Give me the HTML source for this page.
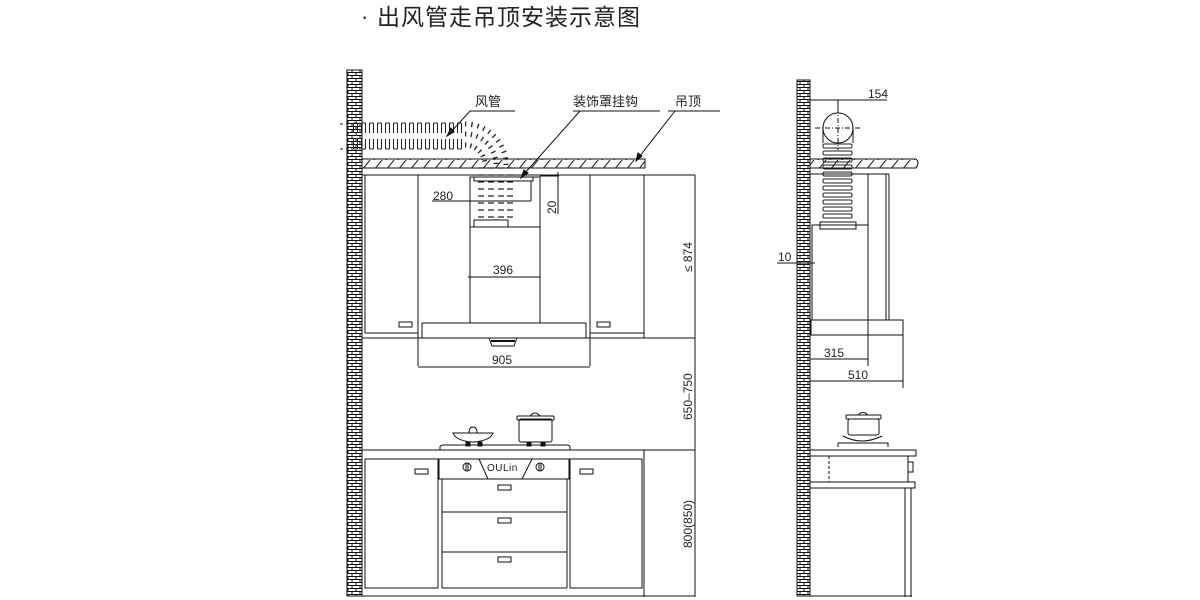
<!DOCTYPE html>
<html><head><meta charset="utf-8"><style>
html,body{margin:0;padding:0;background:#fff;width:1200px;height:600px;overflow:hidden}
svg{display:block}
text{font-family:"Liberation Sans","Noto Sans CJK SC",sans-serif;fill:#222}
</style></head><body>
<svg width="1200" height="600" viewBox="0 0 1200 600" xmlns="http://www.w3.org/2000/svg">
<defs>
<pattern id="brick" width="8" height="6" patternUnits="userSpaceOnUse">
<rect width="8" height="6" fill="#fff"/>
<path d="M0 0.5H8M0 3.5H8M4 0.5V3.5M0 3.5V6.5M8 3.5V6.5" stroke="#111" stroke-width="1" fill="none"/>
</pattern>
<pattern id="hatch" width="12" height="10" patternUnits="userSpaceOnUse">
<path d="M2 10L10 0" stroke="#111" stroke-width="1"/>
</pattern>
<pattern id="rib" x="352" y="122" width="8" height="30" patternUnits="userSpaceOnUse">
<path d="M1.5 1V11M1.5 1H5.5M5.5 1V11M1.5 17V27M5.5 17V27M1.5 27H5.5" stroke="#222" stroke-width="1" fill="none"/>
</pattern>
<pattern id="vrib" x="476" y="166" width="40" height="7" patternUnits="userSpaceOnUse">
<path d="M2 2H8M12 2H18M22 2H28M31 2H37" stroke="#222" stroke-width="1.2"/>
</pattern>
<pattern id="srib" x="822" y="143" width="32" height="7" patternUnits="userSpaceOnUse">
<rect x="1" y="1" width="29" height="4" rx="1.5" stroke="#222" stroke-width="1" fill="none"/>
</pattern>
</defs>

<!-- title -->
<text x="361" y="24" font-size="22" fill="#333">·</text>
<text x="377" y="25" font-size="23" letter-spacing="1" fill="#333">出风管走吊顶安装示意图</text>

<g stroke="#111" stroke-width="1" fill="none">
<!-- LEFT VIEW -->
<rect x="347" y="70" width="15" height="526" fill="url(#brick)"/>
<line x1="362" y1="70" x2="362" y2="596"/>
<rect x="362" y="159" width="283" height="9" fill="url(#hatch)"/>
<line x1="362" y1="175" x2="695" y2="175"/>
<rect x="352" y="122" width="112" height="28" fill="url(#rib)" stroke="none"/>
<line x1="340" y1="124" x2="350" y2="124" stroke-dasharray="3 3"/>
<line x1="340" y1="149" x2="350" y2="149" stroke-dasharray="3 3"/>
<path d="M465 145 A20 20 0 0 1 485 165" stroke="#222" stroke-width="5" stroke-dasharray="1.3 4"/>
<path d="M465 134 A31 31 0 0 1 496 165" stroke="#222" stroke-width="5" stroke-dasharray="1.3 4.5"/>
<path d="M465 124 A41 41 0 0 1 506 165" stroke="#222" stroke-width="5" stroke-dasharray="1.3 5"/>
<rect x="476" y="166" width="38" height="54" fill="url(#vrib)" stroke="none"/>
<line x1="365" y1="175" x2="365" y2="333"/>
<line x1="418" y1="175" x2="418" y2="366"/>
<line x1="590" y1="175" x2="590" y2="366"/>
<line x1="644" y1="175" x2="644" y2="338"/>
<line x1="695" y1="175" x2="695" y2="597"/>
<line x1="365" y1="333" x2="418" y2="333"/>
<line x1="362" y1="338" x2="422" y2="338"/>
<line x1="590" y1="333" x2="644" y2="333"/>
<line x1="586" y1="338" x2="695" y2="338"/>
<rect x="399" y="322" width="13" height="5"/>
<rect x="597" y="322" width="13" height="5"/>
<rect x="470" y="177" width="70" height="146"/>
<line x1="470" y1="227" x2="540" y2="227"/>
<rect x="474" y="220" width="34" height="7"/>
<rect x="474" y="177" width="59" height="4"/>
<rect x="422" y="323" width="164" height="15"/>
<path d="M489 338 L492 346 H514 L517 338" />
<path d="M491 341H515" stroke-width="2"/>
<line x1="468" y1="277" x2="540" y2="277"/>
<line x1="418" y1="367" x2="590" y2="367"/>
<line x1="432" y1="201" x2="531" y2="201"/>
<line x1="531" y1="181" x2="531" y2="201"/>
<line x1="540" y1="176" x2="559" y2="176"/>
<line x1="558" y1="172" x2="558" y2="214"/>
<line x1="470" y1="111" x2="515" y2="111"/>
<line x1="470" y1="111" x2="450" y2="133"/>
<path d="M447 136 L451 128 L454 132Z" fill="#111"/>
<line x1="573" y1="111" x2="660" y2="111"/>
<line x1="580" y1="111" x2="524" y2="174"/>
<path d="M521 178 L524 170 L528 173Z" fill="#111"/>
<line x1="668" y1="111" x2="720" y2="111"/>
<line x1="675" y1="111" x2="639" y2="157"/>
<path d="M636 161 L638 153 L642 156Z" fill="#111"/>
<line x1="362" y1="450" x2="695" y2="450"/>
<line x1="644" y1="450" x2="644" y2="597"/>
<line x1="362" y1="596" x2="695" y2="596"/>
<rect x="365" y="459" width="73" height="129"/>
<rect x="570" y="459" width="72" height="129"/>
<rect x="439" y="459" width="130" height="20"/>
<line x1="442" y1="479" x2="442" y2="588"/>
<line x1="567" y1="479" x2="567" y2="588"/>
<line x1="442" y1="512" x2="567" y2="512"/>
<line x1="442" y1="552" x2="567" y2="552"/>
<line x1="442" y1="588" x2="567" y2="588"/>
<line x1="479" y1="459" x2="488" y2="479"/>
<line x1="532" y1="459" x2="522" y2="479"/>
<circle cx="467" cy="467" r="4"/><line x1="466" y1="463" x2="466" y2="471"/><line x1="468" y1="463" x2="468" y2="471"/>
<circle cx="540" cy="467" r="4"/><line x1="539" y1="463" x2="539" y2="471"/><line x1="541" y1="463" x2="541" y2="471"/>
<rect x="415" y="469" width="13" height="5"/>
<rect x="580" y="469" width="13" height="5"/>
<rect x="498" y="485" width="13" height="5"/>
<rect x="498" y="518" width="13" height="5"/>
<rect x="498" y="557" width="13" height="5"/>
<path d="M440 450 V447 Q440 445 444 445 H566 Q570 445 570 447 V450"/>
<path d="M453 433 H493 Q490 441 473 442 Q456 441 453 433Z"/>
<path d="M469 433 Q469 427 473 427 Q477 427 477 433"/>
<rect x="466" y="442" width="4" height="4" fill="#111"/><rect x="478" y="442" width="4" height="4" fill="#111"/>
<rect x="519" y="419" width="33" height="23" rx="2"/>
<rect x="517" y="416" width="37" height="4" rx="1"/>
<path d="M530 416 Q535 410 540 416"/>
<rect x="527" y="442" width="4" height="4" fill="#111"/><rect x="541" y="442" width="4" height="4" fill="#111"/>

<!-- RIGHT VIEW -->
<rect x="797" y="80" width="13" height="516" fill="url(#brick)"/>
<line x1="810" y1="80" x2="810" y2="596"/>
<line x1="810" y1="100" x2="887" y2="100"/>
<line x1="838" y1="100" x2="838" y2="110"/>
<line x1="823" y1="128" x2="823" y2="143"/><line x1="853" y1="128" x2="853" y2="143"/>
<rect x="822" y="143" width="32" height="77" fill="url(#srib)" stroke="none"/>
<circle cx="838" cy="128" r="15" fill="#fff"/>
<line x1="838" y1="108" x2="838" y2="150" stroke-dasharray="5 2 1 2"/>
<line x1="815" y1="128" x2="861" y2="128" stroke-dasharray="5 2 1 2"/>
<path d="M810 159 H916 Q920 163 916 168 H810Z" fill="url(#hatch)"/>
<line x1="810" y1="174" x2="889" y2="174"/>
<line x1="868" y1="174" x2="868" y2="366"/>
<line x1="886" y1="174" x2="886" y2="320"/>
<line x1="889" y1="174" x2="889" y2="320"/>
<rect x="812" y="225" width="56" height="95"/>
<rect x="820" y="222" width="36" height="7"/>
<rect x="811" y="320" width="92" height="15"/>
<line x1="903" y1="320" x2="903" y2="388"/>
<line x1="777" y1="263" x2="815" y2="263"/>
<line x1="810" y1="359" x2="868" y2="359"/>
<line x1="810" y1="381" x2="903" y2="381"/>
<rect x="848" y="419" width="31" height="16" rx="2"/>
<rect x="846" y="415" width="35" height="4" rx="1"/>
<path d="M858 415 Q863 410 868 415"/>
<path d="M843 436 Q862 446 882 436"/>
<path d="M838 447 V443 H888 V447"/>
<rect x="810" y="450" width="106" height="6"/>
<line x1="810" y1="456" x2="810" y2="482"/>
<line x1="908" y1="456" x2="908" y2="482"/>
<line x1="829" y1="456" x2="829" y2="482" stroke-dasharray="3 2"/>
<rect x="908" y="462" width="5" height="10"/>
<rect x="810" y="482" width="105" height="6"/>
<line x1="905" y1="488" x2="905" y2="597"/>
<line x1="911" y1="488" x2="911" y2="597"/>
<line x1="810" y1="596" x2="912" y2="596"/>
</g>

<g font-size="13">
<text x="475" y="106">风管</text>
<text x="573" y="106">装饰罩挂钩</text>
<text x="675" y="106">吊顶</text>
<text x="433" y="200" font-size="12">280</text>
<text x="493" y="274" font-size="12">396</text>
<text x="492" y="364" font-size="12">905</text>
<text transform="translate(556,214) rotate(-90)" font-size="12">20</text>
<text transform="translate(692,272) rotate(-90)" font-size="12">≤ 874</text>
<text transform="translate(692,420) rotate(-90)" font-size="12">650–750</text>
<text transform="translate(692,548) rotate(-90)" font-size="12">800(850)</text>
<text x="487" y="471" font-size="10" letter-spacing="0.5">OULin</text>
<text x="868" y="98" font-size="12">154</text>
<text x="778" y="261" font-size="12">10</text>
<text x="824" y="357" font-size="12">315</text>
<text x="848" y="379" font-size="12">510</text>
</g>
</svg>
</body></html>
